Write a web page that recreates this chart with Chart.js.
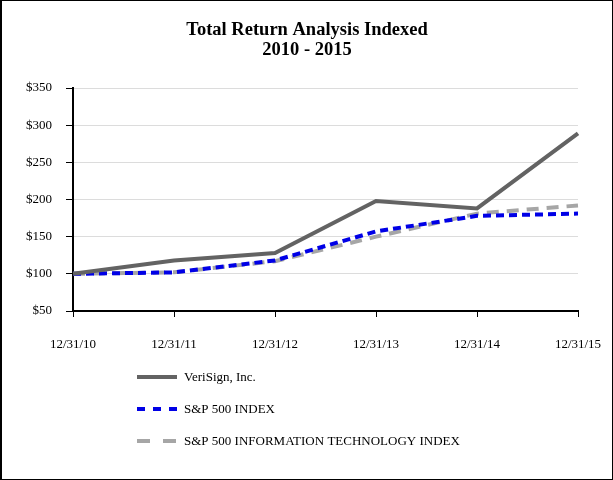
<!DOCTYPE html>
<html lang="en">
<head>
  <meta charset="UTF-8" />
  <title>Total Return Analysis Indexed</title>
  <script src="https://cdn.jsdelivr.net/npm/chart.js"></script>
  <style>
    * { margin: 0; padding: 0; }
    body { background: #fff; }
    .frame {
      width: 613px;
      height: 480px;
      box-sizing: border-box;
      border: 1px solid #000;
      border-left-width: 2px;
    }
  </style>
</head>
<body>
  <div class="frame">
    <canvas id="return-chart" width="610" height="478"></canvas>
  </div>
  <script>
    const dates = ['12/31/10', '12/31/11', '12/31/12', '12/31/13', '12/31/14', '12/31/15'];
    const verisign = [100, 118, 128, 198, 188, 289];
    const sp500 = [100, 102, 118, 157, 178, 181];
    const spTech = [100, 102, 117, 150, 181, 192];
    const yTicks = [50, 100, 150, 200, 250, 300, 350];
    const titleLines = ['Total Return Analysis Indexed', '2010 - 2015'];

    const SERIF = '"Liberation Serif", "Times New Roman", serif';

    // title centred on the whole canvas, legend stacked under the plot
    const frameText = {
      id: 'frameText',
      afterDraw(chart) {
        const ctx = chart.ctx;
        ctx.save();
        ctx.fillStyle = '#000';
        ctx.textAlign = 'center';
        ctx.textBaseline = 'middle';
        ctx.font = 'bold 18.5px ' + SERIF;
        titleLines.forEach((t, i) => ctx.fillText(t, chart.width / 2, 29 + i * 20));
        ctx.restore();

        chart.data.datasets.forEach((ds, i) => {
          const y = 376 + i * 32;
          ctx.save();
          ctx.strokeStyle = ds.borderColor;
          ctx.lineWidth = ds.borderWidth;
          ctx.setLineDash(ds.legendDash || []);
          ctx.beginPath();
          ctx.moveTo(135, y);
          ctx.lineTo(175, y);
          ctx.stroke();
          ctx.setLineDash([]);
          ctx.fillStyle = '#000';
          ctx.font = '13px ' + SERIF;
          ctx.textBaseline = 'middle';
          ctx.fillText(ds.label, 182, y + 1);
          ctx.restore();
        });
      }
    };

    new Chart(document.getElementById('return-chart'), {
      type: 'line',
      data: {
        labels: dates,
        datasets: [
          {
            label: 'VeriSign, Inc.',
            data: verisign,
            borderColor: '#636363',
            borderWidth: 4,
            legendDash: []
          },
          {
            label: 'S&P 500 INDEX',
            data: sp500,
            borderColor: '#0000e6',
            borderWidth: 4,
            borderDash: [8, 5],
            legendDash: [8, 8]
          },
          {
            label: 'S&P 500 INFORMATION TECHNOLOGY INDEX',
            data: spTech,
            borderColor: '#a6a6a6',
            borderWidth: 4,
            borderDash: [12, 8],
            legendDash: [13, 13]
          }
        ]
      },
      options: {
        responsive: false,
        animation: false,
        elements: { point: { radius: 0 }, line: { tension: 0 } },
        layout: { padding: { top: 87, right: 34, bottom: 122, left: 0 } },
        plugins: {
          legend: { display: false },
          tooltip: { enabled: false },
          title: { display: false }
        },
        scales: {
          x: {
            offset: false,
            border: { color: '#000', width: 2 },
            grid: { drawOnChartArea: false, drawTicks: true, tickLength: 6, tickColor: '#000' },
            ticks: {
              color: '#000',
              font: { family: SERIF, size: 13 },
              padding: 20,
              maxRotation: 0
            },
            afterFit: s => { s.height = 46; s.paddingLeft = 0; s.paddingRight = 0; }
          },
          y: {
            min: 50,
            max: 350,
            border: { color: '#000', width: 2 },
            grid: { color: '#dcdcdc', lineWidth: 1, tickLength: 7, tickColor: '#000' },
            afterBuildTicks: s => { s.ticks = yTicks.map(v => ({ value: v })); },
            ticks: {
              color: '#000',
              font: { family: SERIF, size: 13 },
              padding: 14,
              callback: v => '$' + v
            },
            afterFit: s => { s.width = 71; }
          }
        }
      },
      plugins: [frameText]
    });
  </script>
</body>
</html>
